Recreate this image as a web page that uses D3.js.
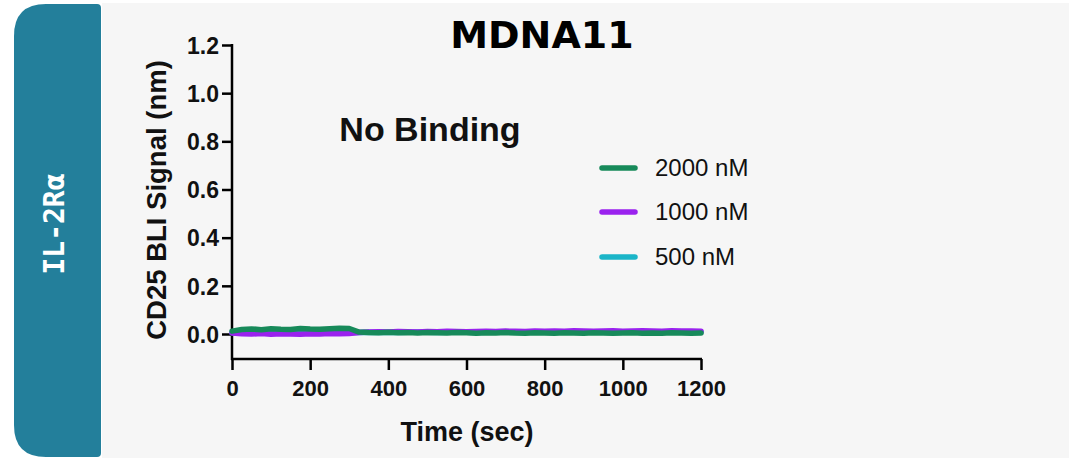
<!DOCTYPE html>
<html><head><meta charset="utf-8">
<script src="https://cdn.jsdelivr.net/npm/d3@7/dist/d3.min.js"></script>
<style>html,body{margin:0;padding:0;background:#fff;}svg{display:block;}</style>
</head><body>
<svg id="c" width="1069" height="458"></svg>
<script>
const times = [0,25,50,75,100,125,150,175,200,225,250,275,300,325,350,375,400,425,450,475,500,525,550,575,600,625,650,675,700,725,750,775,800,825,850,875,900,925,950,975,1000,1025,1050,1075,1100,1125,1150,1175,1200];
const s2000 = [0.012,0.019,0.021,0.018,0.022,0.020,0.019,0.023,0.021,0.020,0.022,0.024,0.023,0.008,0.006,0.005,0.007,0.005,0.006,0.004,0.006,0.005,0.004,0.006,0.005,0.003,0.005,0.004,0.006,0.004,0.003,0.005,0.004,0.003,0.005,0.004,0.003,0.005,0.004,0.003,0.004,0.005,0.003,0.004,0.003,0.005,0.004,0.003,0.004];
const s1000 = [0.004,0.001,0.000,0.002,-0.001,0.001,0.000,-0.001,0.001,0.000,0.002,0.001,0.002,0.006,0.008,0.009,0.008,0.010,0.009,0.008,0.010,0.009,0.011,0.010,0.009,0.010,0.011,0.010,0.012,0.011,0.010,0.012,0.011,0.012,0.011,0.013,0.012,0.011,0.012,0.013,0.011,0.012,0.013,0.012,0.011,0.013,0.012,0.012,0.011];
const s500 = [0.005,0.004,0.005,0.006,0.004,0.005,0.006,0.005,0.004,0.005,0.006,0.005,0.006,0.006,0.007,0.006,0.007,0.006,0.007,0.008,0.007,0.006,0.007,0.008,0.007,0.006,0.007,0.008,0.007,0.008,0.007,0.008,0.007,0.008,0.009,0.008,0.007,0.008,0.009,0.008,0.007,0.008,0.009,0.008,0.009,0.008,0.009,0.008,0.008];
const seriesNames = ["2000 nM","1000 nM","500 nM"];
const seriesColors = ["#178a5a","#9a22ee","#1bb5c8"];
const yTicks = [0,0.2,0.4,0.6,0.8,1.0,1.2];
const xTicks = [0,200,400,600,800,1000,1200];

const svg = d3.select("#c");
svg.append("rect").attr("x",102).attr("y",3).attr("width",967).attr("height",455).attr("fill","#f6f6f6");
// side tab
const tx=14, ty=4, tw=87, th=453, R=32, r=4;
svg.append("path").attr("fill","#237f9b").attr("d",
 `M${tx+R},${ty} L${tx+tw-r},${ty} Q${tx+tw},${ty} ${tx+tw},${ty+r} L${tx+tw},${ty+th-r} Q${tx+tw},${ty+th} ${tx+tw-r},${ty+th} L${tx+R},${ty+th} Q${tx},${ty+th} ${tx},${ty+th-R} L${tx},${ty+R} Q${tx},${ty} ${tx+R},${ty} Z`);
svg.append("text").attr("transform",`translate(64,224) rotate(-90)`)
 .attr("text-anchor","middle").attr("font-family","DejaVu Sans Mono").attr("font-weight","bold")
 .attr("font-size",28).attr("fill","#fff").text("IL-2Rα");

const x = d3.scaleLinear().domain([0,1200]).range([232,701]);
const y = d3.scaleLinear().domain([0,1.2]).range([334,45]);

// axes
const yAxis = svg.append("g").attr("transform","translate(232,0)")
 .call(d3.axisLeft(y).tickValues(yTicks).tickFormat(d3.format(".1f")).tickSize(10).tickSizeOuter(0));
yAxis.select(".domain").remove();
svg.append("line").attr("x1",232).attr("x2",232).attr("y1",44).attr("y2",360).attr("stroke","#000").attr("stroke-width",2.5);
const xAxis = svg.append("g").attr("transform","translate(0,359)")
 .call(d3.axisBottom(x).tickValues(xTicks).tickFormat(d3.format("d")).tickSize(11).tickSizeOuter(0));
xAxis.select(".domain").remove();
svg.append("line").attr("x1",231).attr("x2",702).attr("y1",359).attr("y2",359).attr("stroke","#000").attr("stroke-width",2.5);
[yAxis,xAxis].forEach(g=>{
 g.selectAll(".tick line").attr("stroke","#000").attr("stroke-width",2.5);
 g.selectAll(".tick text").attr("font-family","Liberation Sans, Arial").attr("font-weight","bold").attr("font-size",22).attr("fill","#111");
});
yAxis.selectAll(".tick text").attr("x",-13).attr("dy","0.36em").attr("font-size",23);
xAxis.selectAll(".tick text").attr("y",21);

// lines
const line = d3.line().x((d,i)=>x(times[i])).y(d=>y(d));
const data = [s2000,s1000,s500];
[2,1,0].forEach(k=>{
 svg.append("path").datum(data[k]).attr("d",line).attr("fill","none")
  .attr("stroke",seriesColors[k]).attr("stroke-width",5.5).attr("stroke-linejoin","round").attr("stroke-linecap","round");
});

// titles
svg.append("text").attr("x",542).attr("y",48).attr("text-anchor","middle").attr("font-family","DejaVu Sans").attr("font-weight","bold").attr("font-size",38).attr("fill","#000").text("MDNA11");
svg.append("text").attr("x",430).attr("y",141).attr("text-anchor","middle").attr("font-family","Liberation Sans, Arial").attr("font-weight","bold").attr("font-size",34).attr("fill","#111").text("No Binding");
svg.append("text").attr("transform","translate(166,200) rotate(-90)").attr("text-anchor","middle").attr("font-family","Liberation Sans, Arial").attr("font-weight","bold").attr("font-size",27.5).attr("fill","#111").text("CD25 BLI Signal (nm)");
svg.append("text").attr("x",467).attr("y",441).attr("text-anchor","middle").attr("font-family","Liberation Sans, Arial").attr("font-weight","bold").attr("font-size",27).attr("fill","#111").text("Time (sec)");

// legend
const legY = [168,212,257];
seriesNames.forEach((n,i)=>{
 svg.append("line").attr("x1",602).attr("x2",635).attr("y1",legY[i]).attr("y2",legY[i]).attr("stroke",seriesColors[i]).attr("stroke-width",5.5).attr("stroke-linecap","round");
 svg.append("text").attr("x",655).attr("y",legY[i]+8).attr("font-family","Liberation Sans, Arial").attr("font-size",24).attr("fill","#111").text(n);
});
</script>
</body></html>
